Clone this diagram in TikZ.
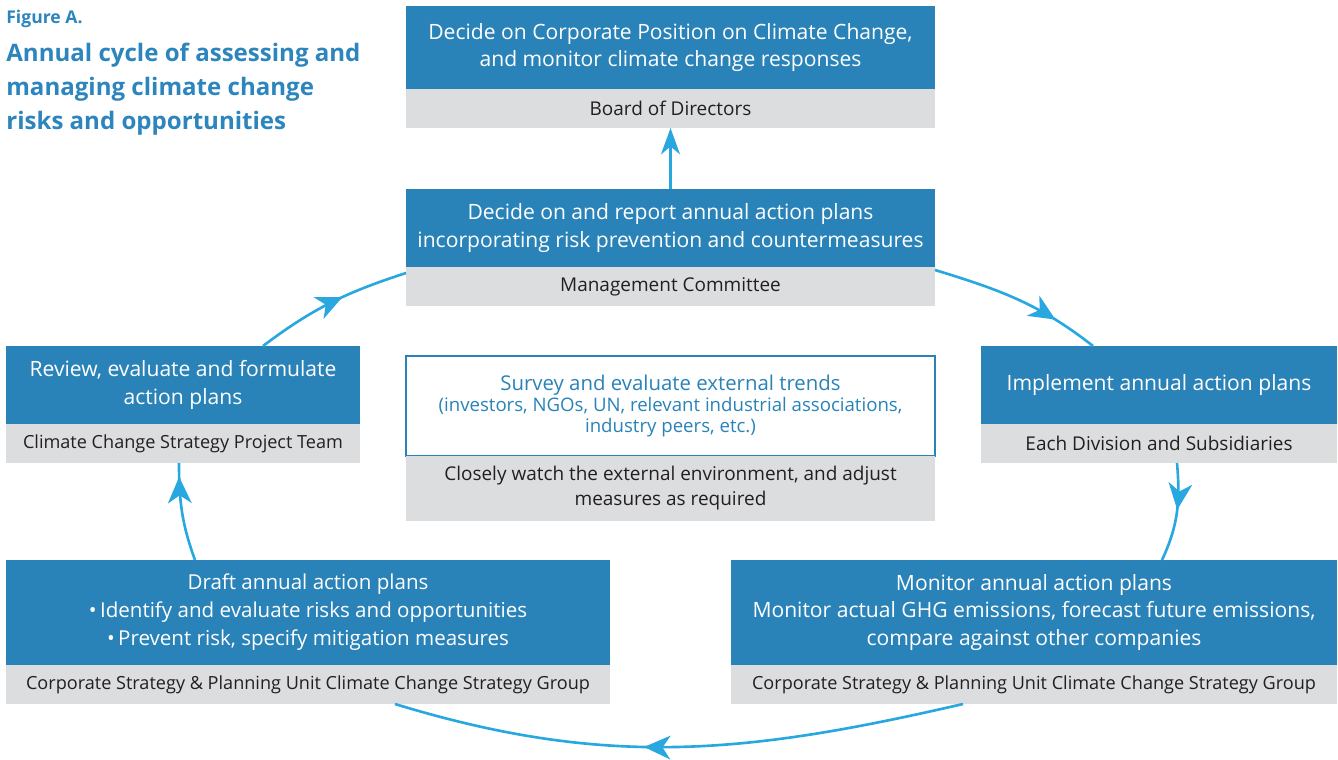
\documentclass[tikz,border=0pt]{standalone}
\usepackage{fontspec}
\setmainfont{Open Sans}
\usetikzlibrary{arrows.meta,decorations.markings,calc}

\definecolor{boxblue}{RGB}{42,131,184}
\definecolor{boxgray}{RGB}{220,221,223}
\definecolor{arrowblue}{RGB}{41,168,224}
\definecolor{inkdark}{RGB}{35,31,32}
\definecolor{titleblue}{RGB}{44,133,189}

\newcommand\bluefont{\fontsize{12pt}{15.9pt}\selectfont}
\newcommand\draftfont{\fontsize{11.7pt}{15.9pt}\selectfont}
\newcommand\grayfont{\fontsize{10.8pt}{14.2pt}\selectfont}
\newcommand\groupfont{\fontsize{10.3pt}{14.2pt}\selectfont}
\newcommand\surveyhead{\fontsize{11.6pt}{14pt}\selectfont}
\newcommand\surveysub{\fontsize{10.6pt}{14.2pt}\selectfont}

\tikzset{
  sz/.style 2 args={minimum width=#1*0.02cm, minimum height=#2*0.02cm},
  bluebox/.style={fill=boxblue, text=white, anchor=north west, inner sep=0pt,
    outer sep=0pt, align=center, font=\bluefont},
  graybox/.style={fill=boxgray, text=inkdark, anchor=north west, inner sep=0pt,
    outer sep=0pt, align=center, font=\grayfont},
  surveybox/.style={fill=white, draw=boxblue, line width=0.6pt, text=boxblue,
    anchor=north west, inner sep=0pt, outer sep=0pt, align=center},
  titletext/.style={text=titleblue, anchor=north west, inner sep=0pt, align=left},
  flow/.style={draw=arrowblue, line width=1.5pt},
  tipmid/.style={postaction={decorate}, decoration={markings,
    mark=at position #1 with {\arrow{Stealth[length=15pt,width=13.5pt,inset=4.5pt]}}}},
}

\begin{document}
\begin{tikzpicture}[x=0.02cm, y=0.02cm]
  \path[use as bounding box] (0,0) rectangle (1338,-760);

  % heading
  \node[titletext, font=\bfseries\fontsize{10pt}{12pt}\selectfont] (figlabel) at (6,-10) {Figure A.};
  \node[titletext, font=\bfseries\fontsize{13.7pt}{19.3pt}\selectfont] (title) at (6,-43)
    {Annual cycle of assessing and\\managing climate change\\risks and opportunities};

  % Board of Directors
  \node[bluebox, sz={529}{83}] (board) at (406,-6)
    {Decide on Corporate Position on Climate Change,\\and monitor climate change responses};
  \node[graybox, sz={529}{39}] (boardg) at (406,-89) {Board of Directors};

  % Management Committee
  \node[bluebox, sz={529}{78}] (mgmt) at (406,-189)
    {Decide on and report annual action plans\\incorporating risk prevention and countermeasures};
  \node[graybox, sz={529}{39}] (mgmtg) at (406,-267) {Management Committee};

  % Project team
  \node[bluebox, sz={354}{78}] (review) at (6,-346)
    {Review, evaluate and formulate\\action plans};
  \node[graybox, font=\groupfont, sz={354}{39}] (reviewg) at (6,-424)
    {Climate Change Strategy Project Team};

  % Divisions
  \node[bluebox, sz={356}{78}] (impl) at (981,-346) {Implement annual action plans};
  \node[graybox, sz={356}{39}] (implg) at (981,-424) {Each Division and Subsidiaries};

  % External trends
  \node[surveybox, sz={529}{100}] (survey) at (406,-356)
    {{\surveyhead Survey and evaluate external trends}\\
     {\surveysub (investors, NGOs, UN, relevant industrial associations,}\\
     {\surveysub industry peers, etc.)}};
  \node[graybox, sz={529}{65}] (surveyg) at (406,-456)
    {Closely watch the external environment, and adjust\\measures as required};

  % Strategy group: drafting
  \node[bluebox, font=\draftfont, sz={604}{105}] (draft) at (6,-560)
    {Draft annual action plans\\
     \textbullet\,Identify and evaluate risks and opportunities\\
     \textbullet\,Prevent risk, specify mitigation measures};
  \node[graybox, font=\groupfont, sz={604}{39}] (draftg) at (6,-665)
    {Corporate Strategy \& Planning Unit Climate Change Strategy Group};

  % Strategy group: monitoring
  \node[bluebox, sz={606}{105}] (mon) at (731,-560)
    {Monitor annual action plans\\
     Monitor actual GHG emissions, forecast future emissions,\\
     compare against other companies};
  \node[graybox, font=\groupfont, sz={606}{39}] (mong) at (731,-665)
    {Corporate Strategy \& Planning Unit Climate Change Strategy Group};

  % cycle connectors
  \draw[flow, -{Stealth[length=15pt,width=10.8pt,inset=4.5pt]}] (mgmt.north) -- (boardg.south);
  \draw[flow, tipmid=0.74] ($(mgmtg.north east)+(0,-3)$) to[out=-17,in=142]
    ($(impl.north west)+(112,0)$);
  \draw[flow, tipmid=0.47] ($(implg.south west)+(196,0)$) to[out=-85,in=65]
    ($(mon.north east)+(-175,0)$);
  \draw[flow, tipmid=0.56] ($(mong.south west)+(232,0)$) to[out=193,in=-17]
    ($(draftg.south west)+(389,0)$);
  \draw[flow, tipmid=0.86] ($(draft.north west)+(189,0)$) to[out=110,in=-90]
    ($(reviewg.south west)+(173,0)$);
  \draw[flow, tipmid=0.58] ($(review.north west)+(257,0)$) to[out=37,in=198]
    ($(mgmtg.north west)+(0,-6)$);
\end{tikzpicture}
\end{document}
